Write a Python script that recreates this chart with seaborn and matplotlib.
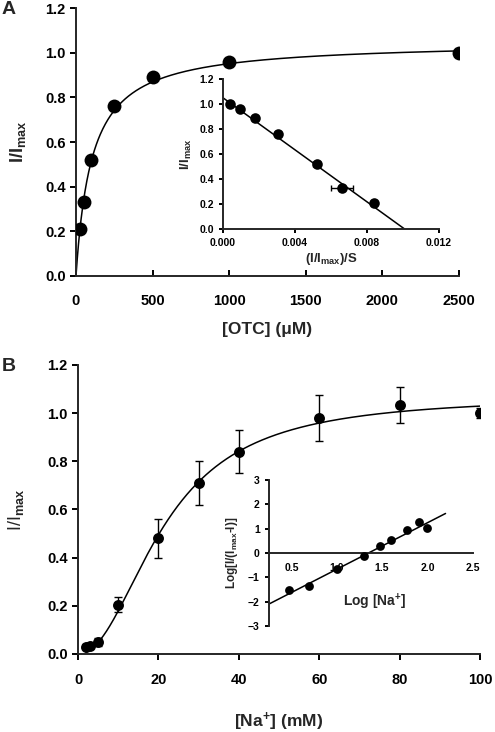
import numpy as np
import pandas as pd
import seaborn as sns
import matplotlib
matplotlib.use('Agg')
import matplotlib.pyplot as plt

# panel A: OTC saturation
otc = [25, 50, 100, 250, 500, 1000, 2500]
a_rel = [0.21, 0.33, 0.52, 0.76, 0.89, 0.96, 1.00]
a_xerr = [0, 0.0006, 0.0002, 0, 0, 0, 0]   # inset (Eadie-Hofstee) x error
a_vmax, a_km = 1.05, 104.0

# panel B: Na+ dependence
na = [2, 3, 5, 10, 20, 30, 40, 60, 80, 100]
b_rel = [0.03, 0.035, 0.05, 0.205, 0.48, 0.71, 0.84, 0.98, 1.035, 1.00]
b_err = [0.01, 0.01, 0.015, 0.03, 0.08, 0.09, 0.09, 0.095, 0.075, 0.02]
b_vmax, b_k, b_n = 1.07, 21.5, 2.1

# inset B: Hill plot
log_na = [0.477, 0.699, 1.0, 1.301, 1.477, 1.602, 1.778, 1.903, 2.0]
log_hill = [-1.51, -1.36, -0.67, -0.14, 0.27, 0.52, 0.96, 1.27, 1.04]
hill_slope, hill_x0 = 1.91, 1.35

sns.set_style('ticks')
plt.rcParams['font.family'] = ['Liberation Sans', 'DejaVu Sans']
plt.rcParams['font.weight'] = 'bold'
plt.rcParams['axes.labelweight'] = 'bold'
plt.rcParams['mathtext.fontset'] = 'custom'
plt.rcParams['mathtext.rm'] = 'Liberation Sans'
plt.rcParams['mathtext.bf'] = 'Liberation Sans:bold'
plt.rcParams['mathtext.it'] = 'Liberation Sans:italic'
plt.rcParams['mathtext.default'] = 'bf'
plt.rcParams['axes.linewidth'] = 1.4

fig = plt.figure(figsize=(4.95, 7.32), dpi=100)

def style(ax, size):
    sns.despine(ax=ax)
    ax.tick_params(labelsize=size, width=1.4, length=4, colors='k')

def bold_ticks(ax):
    for lab in ax.get_xticklabels() + ax.get_yticklabels():
        lab.set_fontweight('bold')

# ---- A main
axA = fig.add_axes([0.1535, 0.623, 0.7737, 0.366])
xs = np.linspace(0, 2500, 600)
fitA = pd.DataFrame({'x': xs, 'y': a_vmax * xs / (a_km + xs)})
sns.lineplot(data=fitA, x='x', y='y', ax=axA, color='k', lw=1.1)
dfA = pd.DataFrame({'otc': otc, 'rel': a_rel})
sns.scatterplot(data=dfA, x='otc', y='rel', ax=axA, color='k', s=100, linewidth=0, zorder=3)
axA.set_xlim(0, 2500)
axA.set_ylim(0, 1.2)
axA.set_xticks(range(0, 2501, 500))
axA.set_yticks(np.arange(0, 1.21, 0.2))
axA.yaxis.set_major_formatter(matplotlib.ticker.FormatStrFormatter('%.1f'))
style(axA, 10.5)
axA.tick_params(axis='x', direction='in', pad=13)
axA.set_xlabel('[OTC] (\u03bcM)', fontsize=12.5, labelpad=10)
axA.set_ylabel('I/I$_{max}$', fontsize=13, labelpad=12)
bold_ticks(axA)

# ---- A inset
axAi = fig.add_axes([0.4505, 0.687, 0.4364, 0.205])
axAi.patch.set_alpha(0)
eh = pd.DataFrame({'vs': np.array(a_rel) / np.array(otc), 'rel': a_rel})
lx = np.array([0, a_vmax / a_km])
sns.lineplot(x=lx, y=a_vmax - a_km * lx, ax=axAi, color='k', lw=1.1)
axAi.errorbar(eh['vs'], eh['rel'], xerr=a_xerr, fmt='none', ecolor='k', elinewidth=1, capsize=2.5)
sns.scatterplot(data=eh, x='vs', y='rel', ax=axAi, color='k', s=58, linewidth=0, zorder=3)
axAi.set_xlim(0, 0.012)
axAi.set_ylim(0, 1.2)
axAi.set_xticks([0, 0.004, 0.008, 0.012])
axAi.set_yticks(np.arange(0, 1.21, 0.2))
axAi.xaxis.set_major_formatter(matplotlib.ticker.FormatStrFormatter('%.3f'))
axAi.yaxis.set_major_formatter(matplotlib.ticker.FormatStrFormatter('%.1f'))
style(axAi, 7.5)
axAi.tick_params(length=3)
axAi.set_xlabel('(I/I$_{max}$)/S', fontsize=9.5, labelpad=2)
axAi.set_ylabel('I/I$_{max}$', fontsize=9.5, labelpad=4)
bold_ticks(axAi)

# ---- B main
axB = fig.add_axes([0.1576, 0.1066, 0.8121, 0.3948])
xb = np.linspace(2, 100, 500)
fitB = pd.DataFrame({'x': xb, 'y': b_vmax * xb ** b_n / (b_k ** b_n + xb ** b_n)})
sns.lineplot(data=fitB, x='x', y='y', ax=axB, color='k', lw=1.1)
axB.errorbar(na, b_rel, yerr=b_err, fmt='none', ecolor='k', elinewidth=1, capsize=3)
dfB = pd.DataFrame({'na': na, 'rel': b_rel})
sns.scatterplot(data=dfB, x='na', y='rel', ax=axB, color='k', s=62, linewidth=0, zorder=3)
axB.set_xlim(0, 100)
axB.set_ylim(0, 1.2)
axB.set_xticks(range(0, 101, 20))
axB.set_yticks(np.arange(0, 1.21, 0.2))
axB.yaxis.set_major_formatter(matplotlib.ticker.FormatStrFormatter('%.1f'))
style(axB, 10.5)
axB.tick_params(axis='x', pad=10)
axB.set_xlabel('[Na$^{+}$] (mM)', fontsize=12.5, labelpad=17)
axB.set_ylabel('I/I$_{\\mathrm{max}}$', fontsize=13, fontweight='normal', labelpad=15)
bold_ticks(axB)

# ---- B inset
axBi = fig.add_axes([0.543, 0.1448, 0.412, 0.1995])
axBi.patch.set_alpha(0)
hx = np.array([0.25, 2.2])
sns.lineplot(x=hx, y=hill_slope * (hx - hill_x0), ax=axBi, color='k', lw=1.1)
sns.scatterplot(x=log_na, y=log_hill, ax=axBi, color='k', s=40, linewidth=0, zorder=3)
axBi.set_xlim(0.25, 2.5)
axBi.set_ylim(-3, 3)
axBi.set_xticks([0.5, 1.0, 1.5, 2.0, 2.5])
axBi.set_yticks(range(-3, 4))
axBi.xaxis.set_major_formatter(matplotlib.ticker.FormatStrFormatter('%.1f'))
style(axBi, 7.5)
axBi.spines['bottom'].set_position(('data', 0))
axBi.tick_params(length=3)
axBi.tick_params(axis='x', length=0, pad=7)
axBi.set_xlabel('Log [Na$^{+}$]', fontsize=10)
axBi.xaxis.set_label_coords(0.52, 0.165)
axBi.xaxis.label.set_va('center')
axBi.set_ylabel('Log[I/(I$_{max}$-I)]', fontsize=8.5, labelpad=6)
bold_ticks(axBi)

fig.text(0.003, 0.998, 'A', fontsize=14, fontweight='bold', va='top')
fig.text(0.003, 0.511, 'B', fontsize=14, fontweight='bold', va='top')

fig.savefig('out.png', dpi=100)
